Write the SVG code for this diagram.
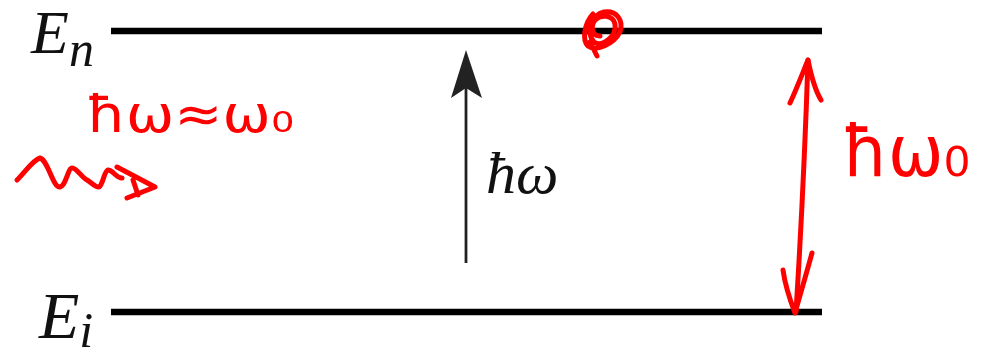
<svg xmlns="http://www.w3.org/2000/svg" width="989" height="357" viewBox="0 0 989 357">
<style>
.lvl{stroke:#000;stroke-width:6.5;fill:none}
.math{font-family:"Liberation Serif","DejaVu Serif",serif;font-style:italic;fill:#111}
.pen{stroke:#f00;stroke-width:5;fill:none;stroke-linecap:round;stroke-linejoin:round}
.hand{font-family:"DejaVu Sans",sans-serif;fill:#f00}
</style>
<rect width="989" height="357" fill="#fff"/>
<g id="level-n">
<line class="lvl" x1="111" y1="31" x2="822" y2="31"/>
<text class="math" x="31" y="53" font-size="62">E<tspan font-size="50" dy="13">n</tspan></text>
</g>
<g id="level-i">
<line class="lvl" x1="111" y1="312" x2="822" y2="312"/>
<text class="math" x="39" y="338" font-size="66">E<tspan font-size="50" dy="9">i</tspan></text>
</g>
<g id="connectors">
<g id="photon-arrow">
<line x1="466" y1="263" x2="466" y2="80" stroke="#222" stroke-width="2.8"/>
<path d="M466,50 L482,98 L466,88 L451,98 Z" fill="#222"/>
</g>
<g id="gap-arrow">
<path class="pen" d="M808,60 C806,120 803,200 796,312"/>
<path class="pen" d="M790,103 C797,88 803,72 808,60 C811,75 815,90 821,100"/>
<path class="pen" d="M783,270 C785,285 790,300 795,313 C800,295 806,275 812,253"/>
</g>
<g id="wave-arrow">
<path class="pen" d="M17,180 C25,172 33,160 40,158 C48,160 53,188 60,187 C66,186 68,168 72,168 C77,168 82,178 87,180 C92,183 96,188 99,187 C103,185 104,171 108,170 C113,170 116,178 122,178"/>
<path class="pen" d="M117,167 L155,187 L127,198 M133,180 L138,195"/>
</g>
</g>
<g id="mark-circle">
<path class="pen" d="M593,14 C584,24 582,40 588,46 C596,52 614,44 620,32 C624,20 616,10 604,12 C591,15 586,34 594,42 C602,48 617,36 615,24 C613,15 601,14 595,20 C590,27 592,36 600,36 M590,42 L597,56"/>
</g>
<g id="label-hw">
<text class="math" x="486" y="193" font-size="60">ħω</text>
</g>
<g id="note-resonance">
<text class="hand" x="86" y="132" font-size="52" textLength="208" lengthAdjust="spacingAndGlyphs">ħω≈ω₀</text>
</g>
<g id="note-gap">
<text class="hand" x="842" y="176" font-size="72" textLength="128" lengthAdjust="spacingAndGlyphs">ħω₀</text>
</g>
</svg>
